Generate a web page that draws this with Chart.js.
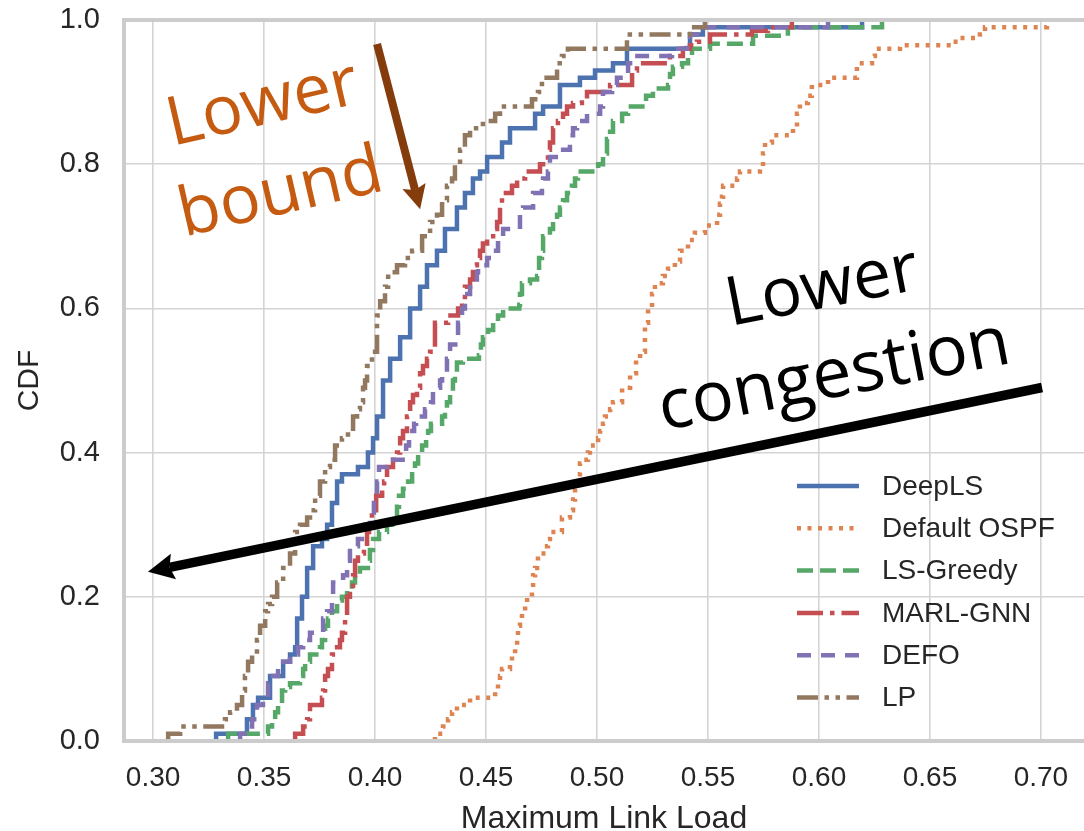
<!DOCTYPE html>
<html>
<head>
<meta charset="utf-8">
<title>Maximum link load CDF</title>
<script src="https://cdn.jsdelivr.net/npm/chart.js@4.4.1/dist/chart.umd.min.js"></script>
<style>
  html, body { margin: 0; padding: 0; background: #ffffff; }
  canvas { display: block; }
</style>
</head>
<body>
<canvas id="cdfChart" width="1084" height="831"></canvas>
<script>
// Axis ticks
const xTicks = [0.30, 0.35, 0.40, 0.45, 0.50, 0.55, 0.60, 0.65, 0.70]
const yTicks = [0.0, 0.2, 0.4, 0.6, 0.8, 1.0]

const seriesNames = ["DeepLS", "Default OSPF", "LS-Greedy", "MARL-GNN", "DEFO", "LP"]

const deepLsLoad = [0.3284, 0.3284, 0.3423, 0.3450, 0.3473, 0.3527, 0.3586, 0.3617, 0.3640, 0.3649, 0.3671, 0.3694, 0.3721, 0.3761, 0.3784, 0.3806, 0.3829, 0.3851, 0.3923, 0.3968, 0.3991, 0.4009, 0.4036, 0.4068, 0.4113, 0.4158, 0.4203, 0.4234, 0.4279, 0.4315, 0.4369, 0.4405, 0.4441, 0.4473, 0.4505, 0.4572, 0.4608, 0.4721, 0.4757, 0.4833, 0.4923, 0.4991, 0.5072, 0.5135, 0.5419, 0.5477, 0.6194]
const deepLsCdf = [0, 0.01, 0.03, 0.05, 0.06, 0.09, 0.11, 0.12, 0.13, 0.17, 0.20, 0.24, 0.27, 0.28, 0.30, 0.33, 0.36, 0.37, 0.38, 0.40, 0.42, 0.45, 0.50, 0.53, 0.56, 0.60, 0.63, 0.66, 0.68, 0.71, 0.74, 0.76, 0.78, 0.79, 0.81, 0.83, 0.85, 0.87, 0.88, 0.91, 0.92, 0.93, 0.94, 0.96, 0.98, 0.99, 1.0]

const ospfLoad = [0.4270, 0.4270, 0.4306, 0.4329, 0.4347, 0.4369, 0.4428, 0.4541, 0.4554, 0.4563, 0.4572, 0.4608, 0.4617, 0.4631, 0.4640, 0.4644, 0.4653, 0.4662, 0.4676, 0.4685, 0.4707, 0.4712, 0.4721, 0.4730, 0.4734, 0.4775, 0.4779, 0.4788, 0.4842, 0.4878, 0.4892, 0.4901, 0.4910, 0.4923, 0.4937, 0.4959, 0.4968, 0.5005, 0.5014, 0.5027, 0.5036, 0.5059, 0.5072, 0.5113, 0.5149, 0.5176, 0.5194, 0.5216, 0.5230, 0.5248, 0.5261, 0.5297, 0.5320, 0.5351, 0.5374, 0.5410, 0.5441, 0.5486, 0.5541, 0.5554, 0.5563, 0.5568, 0.5631, 0.5644, 0.5734, 0.5748, 0.5757, 0.5788, 0.5883, 0.5901, 0.5914, 0.5950, 0.5968, 0.6041, 0.6171, 0.6239, 0.6252, 0.6365, 0.6599, 0.6626, 0.6725, 0.6748, 0.7027]
const ospfCdf = [0, 0.01, 0.02, 0.03, 0.04, 0.05, 0.06, 0.07, 0.08, 0.09, 0.10, 0.11, 0.12, 0.13, 0.14, 0.16, 0.17, 0.18, 0.19, 0.20, 0.21, 0.23, 0.24, 0.25, 0.26, 0.27, 0.28, 0.29, 0.31, 0.32, 0.335, 0.35, 0.37, 0.385, 0.39, 0.40, 0.41, 0.42, 0.43, 0.44, 0.45, 0.46, 0.47, 0.49, 0.51, 0.53, 0.54, 0.58, 0.60, 0.62, 0.635, 0.645, 0.655, 0.665, 0.68, 0.695, 0.705, 0.715, 0.73, 0.745, 0.755, 0.77, 0.78, 0.79, 0.795, 0.815, 0.83, 0.84, 0.85, 0.87, 0.885, 0.895, 0.91, 0.92, 0.94, 0.95, 0.96, 0.965, 0.97, 0.975, 0.98, 0.99, 1.0]

const greedyLoad = [0.3338, 0.3338, 0.3518, 0.3536, 0.3550, 0.3563, 0.3581, 0.3595, 0.3617, 0.3662, 0.3676, 0.3685, 0.3707, 0.3752, 0.3761, 0.3775, 0.3788, 0.3806, 0.3829, 0.3851, 0.3874, 0.3896, 0.3910, 0.3932, 0.3968, 0.3977, 0.3991, 0.4018, 0.4054, 0.4077, 0.4099, 0.4108, 0.4126, 0.4149, 0.4167, 0.4180, 0.4194, 0.4212, 0.4230, 0.4239, 0.4252, 0.4302, 0.4315, 0.4324, 0.4338, 0.4351, 0.4360, 0.4369, 0.4396, 0.4468, 0.4477, 0.4486, 0.4509, 0.4532, 0.4554, 0.4577, 0.4650, 0.4653, 0.4662, 0.4698, 0.4730, 0.4739, 0.4752, 0.4757, 0.4788, 0.4802, 0.4820, 0.4833, 0.4847, 0.4865, 0.4887, 0.4901, 0.4914, 0.5005, 0.5027, 0.5045, 0.5059, 0.5072, 0.5113, 0.5140, 0.5221, 0.5252, 0.5320, 0.5329, 0.5342, 0.5383, 0.5410, 0.5428, 0.5509, 0.5703, 0.5860, 0.6284]
const greedyCdf = [0, 0.01, 0.02, 0.03, 0.04, 0.05, 0.07, 0.075, 0.08, 0.09, 0.10, 0.11, 0.12, 0.13, 0.14, 0.16, 0.17, 0.18, 0.195, 0.20, 0.21, 0.22, 0.23, 0.24, 0.25, 0.265, 0.28, 0.29, 0.30, 0.31, 0.325, 0.34, 0.35, 0.36, 0.37, 0.385, 0.40, 0.41, 0.42, 0.43, 0.44, 0.45, 0.46, 0.47, 0.48, 0.50, 0.51, 0.525, 0.53, 0.535, 0.55, 0.56, 0.57, 0.58, 0.59, 0.60, 0.605, 0.62, 0.635, 0.64, 0.645, 0.67, 0.68, 0.70, 0.71, 0.72, 0.73, 0.74, 0.75, 0.76, 0.77, 0.78, 0.79, 0.80, 0.815, 0.835, 0.845, 0.86, 0.87, 0.88, 0.895, 0.905, 0.91, 0.925, 0.935, 0.94, 0.95, 0.96, 0.967, 0.978, 0.99, 1.0]

const marlLoad = [0.3640, 0.3640, 0.3676, 0.3694, 0.3707, 0.3761, 0.3766, 0.3775, 0.3788, 0.3806, 0.3829, 0.3842, 0.3851, 0.3865, 0.3874, 0.3887, 0.3901, 0.3910, 0.3923, 0.3950, 0.3964, 0.3973, 0.3986, 0.4005, 0.4032, 0.4041, 0.4054, 0.4081, 0.4099, 0.4113, 0.4126, 0.4144, 0.4158, 0.4171, 0.4189, 0.4203, 0.4216, 0.4234, 0.4248, 0.4270, 0.4329, 0.4374, 0.4392, 0.4405, 0.4428, 0.4441, 0.4459, 0.4473, 0.4486, 0.4505, 0.4532, 0.4550, 0.4563, 0.4572, 0.4617, 0.4640, 0.4676, 0.4743, 0.4779, 0.4788, 0.4802, 0.4824, 0.4847, 0.4865, 0.4892, 0.4932, 0.4955, 0.5059, 0.5158, 0.5180, 0.5329, 0.5387, 0.5419, 0.5450, 0.5509, 0.5698, 0.5770, 0.5878]
const marlCdf = [0, 0.01, 0.02, 0.03, 0.05, 0.06, 0.07, 0.09, 0.10, 0.12, 0.13, 0.14, 0.15, 0.17, 0.20, 0.21, 0.23, 0.25, 0.26, 0.27, 0.29, 0.30, 0.32, 0.34, 0.35, 0.36, 0.38, 0.39, 0.40, 0.42, 0.43, 0.45, 0.47, 0.48, 0.49, 0.51, 0.52, 0.53, 0.54, 0.58, 0.59, 0.60, 0.61, 0.63, 0.64, 0.66, 0.67, 0.68, 0.69, 0.70, 0.71, 0.72, 0.74, 0.76, 0.77, 0.78, 0.79, 0.80, 0.82, 0.83, 0.85, 0.86, 0.87, 0.88, 0.885, 0.89, 0.90, 0.91, 0.93, 0.94, 0.95, 0.96, 0.965, 0.97, 0.98, 0.985, 0.99, 1.0]

const defoLoad = [0.3392, 0.3392, 0.3423, 0.3446, 0.3468, 0.3495, 0.3518, 0.3541, 0.3563, 0.3586, 0.3617, 0.3653, 0.3676, 0.3707, 0.3766, 0.3784, 0.3806, 0.3811, 0.3856, 0.3874, 0.3887, 0.3923, 0.3955, 0.3977, 0.3995, 0.4009, 0.4018, 0.4054, 0.4140, 0.4153, 0.4176, 0.4185, 0.4225, 0.4252, 0.4261, 0.4293, 0.4302, 0.4324, 0.4333, 0.4338, 0.4374, 0.4392, 0.4405, 0.4428, 0.4459, 0.4464, 0.4505, 0.4532, 0.4554, 0.4577, 0.4653, 0.4667, 0.4712, 0.4752, 0.4757, 0.4779, 0.4788, 0.4833, 0.4878, 0.4892, 0.4910, 0.4955, 0.5014, 0.5027, 0.5068, 0.5090, 0.5140, 0.5162, 0.5338, 0.5405, 0.5419, 0.5477, 0.6041]
const defoCdf = [0, 0.01, 0.02, 0.03, 0.05, 0.06, 0.08, 0.09, 0.10, 0.11, 0.12, 0.13, 0.14, 0.15, 0.17, 0.18, 0.20, 0.22, 0.23, 0.25, 0.27, 0.28, 0.30, 0.31, 0.33, 0.36, 0.38, 0.39, 0.41, 0.43, 0.44, 0.45, 0.46, 0.47, 0.49, 0.50, 0.51, 0.53, 0.54, 0.55, 0.58, 0.60, 0.62, 0.64, 0.65, 0.66, 0.67, 0.68, 0.70, 0.71, 0.73, 0.74, 0.76, 0.77, 0.78, 0.79, 0.81, 0.82, 0.84, 0.85, 0.86, 0.87, 0.88, 0.90, 0.91, 0.92, 0.94, 0.95, 0.96, 0.97, 0.98, 0.99, 1.0]

const lpLoad = [0.3068, 0.3068, 0.3122, 0.3324, 0.3347, 0.3378, 0.3401, 0.3414, 0.3428, 0.3446, 0.3468, 0.3482, 0.3505, 0.3518, 0.3536, 0.3559, 0.3586, 0.3617, 0.3640, 0.3662, 0.3694, 0.3707, 0.3730, 0.3752, 0.3775, 0.3797, 0.3820, 0.3851, 0.3878, 0.3901, 0.3919, 0.3932, 0.3946, 0.3955, 0.3964, 0.3986, 0.4009, 0.4023, 0.4045, 0.4059, 0.4099, 0.4135, 0.4167, 0.4212, 0.4248, 0.4279, 0.4302, 0.4324, 0.4347, 0.4360, 0.4383, 0.4405, 0.4428, 0.4486, 0.4541, 0.4563, 0.4707, 0.4734, 0.4752, 0.4820, 0.4842, 0.4869, 0.5135, 0.5419, 0.5486]
const lpCdf = [0, 0.01, 0.02, 0.03, 0.04, 0.05, 0.07, 0.09, 0.11, 0.12, 0.14, 0.16, 0.18, 0.19, 0.20, 0.22, 0.24, 0.26, 0.29, 0.30, 0.31, 0.32, 0.34, 0.36, 0.38, 0.39, 0.41, 0.42, 0.43, 0.45, 0.46, 0.47, 0.49, 0.50, 0.52, 0.54, 0.59, 0.61, 0.63, 0.65, 0.66, 0.67, 0.68, 0.70, 0.72, 0.73, 0.75, 0.77, 0.78, 0.80, 0.82, 0.84, 0.85, 0.86, 0.87, 0.88, 0.89, 0.90, 0.92, 0.94, 0.95, 0.96, 0.98, 0.99, 1.0]

const seriesLoads = [deepLsLoad, ospfLoad, greedyLoad, marlLoad, defoLoad, lpLoad]
const seriesCdfs = [deepLsCdf, ospfCdf, greedyCdf, marlCdf, defoCdf, lpCdf]

// Annotation texts
const boundText = ["Lower", "bound"]
const congestionText = ["Lower", "congestion"]

// ---- styling (seaborn "deep" palette, matplotlib-like dashes) ----
const seriesStyles = [
  { color: "#4c72b0", dash: [] },
  { color: "#dd8452", dash: [4, 6.5] },
  { color: "#55a868", dash: [16, 7] },
  { color: "#c44e52", dash: [26, 7, 4.5, 7] },
  { color: "#8172b3", dash: [14, 10] },
  { color: "#937860", dash: [21, 6.5, 4.5, 6.5, 4.5, 6.5] }
]

const AXIS_FONT = "Liberation Sans, Arial, sans-serif"
const TEXT_COLOR = "#262626"
const GRID_COLOR = "#d4d4d4"
const SPINE_COLOR = "#cccccc"

const datasets = seriesNames.map((name, i) => ({
  label: name,
  data: seriesLoads[i].map((v, k) => ({ x: v, y: seriesCdfs[i][k] })),
  borderColor: seriesStyles[i].color,
  backgroundColor: seriesStyles[i].color,
  borderDash: seriesStyles[i].dash,
  borderWidth: 4.5,
  borderCapStyle: "butt",
  stepped: "before",
  pointRadius: 0,
  fill: false,
  order: seriesNames.length - i
}))

function drawArrow(ctx, x1, y1, x2, y2, width, headLen, headHalf, color) {
  const a = Math.atan2(y2 - y1, x2 - x1)
  const bx = x2 - Math.cos(a) * headLen
  const by = y2 - Math.sin(a) * headLen
  ctx.save()
  ctx.strokeStyle = color
  ctx.fillStyle = color
  ctx.lineWidth = width
  ctx.lineCap = "butt"
  ctx.setLineDash([])
  ctx.beginPath()
  ctx.moveTo(x1, y1)
  ctx.lineTo(bx + Math.cos(a) * 4, by + Math.sin(a) * 4)
  ctx.stroke()
  const nx = -Math.sin(a), ny = Math.cos(a)
  ctx.beginPath()
  ctx.moveTo(x2, y2)
  ctx.lineTo(bx + nx * headHalf, by + ny * headHalf)
  ctx.lineTo(bx + Math.cos(a) * 4, by + Math.sin(a) * 4)
  ctx.lineTo(bx - nx * headHalf, by - ny * headHalf)
  ctx.closePath()
  ctx.fill()
  ctx.restore()
}

function drawRotatedText(ctx, text, x, y, angleDeg, font, color) {
  ctx.save()
  ctx.translate(x, y)
  ctx.rotate(angleDeg * Math.PI / 180)
  ctx.font = font
  ctx.fillStyle = color
  ctx.textAlign = "center"
  ctx.textBaseline = "alphabetic"
  ctx.fillText(text, 0, 0)
  ctx.restore()
}

const decorPlugin = {
  id: "decor",
  afterDatasetsDraw(chart) {
    const { ctx, chartArea, scales } = chart
    const px = v => scales.x.getPixelForValue(v)
    const py = v => scales.y.getPixelForValue(v)

    // spines (left, top, bottom)
    ctx.save()
    ctx.strokeStyle = SPINE_COLOR
    ctx.lineWidth = 4
    ctx.setLineDash([])
    ctx.beginPath()
    ctx.moveTo(chartArea.right + 2, chartArea.top)
    ctx.lineTo(chartArea.left, chartArea.top)
    ctx.lineTo(chartArea.left, chartArea.bottom)
    ctx.lineTo(chartArea.right + 2, chartArea.bottom)
    ctx.stroke()
    ctx.restore()

    // annotations
    const bigFont = "68px 'Open Sans', 'Noto Sans', sans-serif"
    const congFont = "70px 'Open Sans', 'Noto Sans', sans-serif"
    drawRotatedText(ctx, boundText[0], px(0.3514), py(0.8556), -13, bigFont, "#c55a11")
    drawRotatedText(ctx, boundText[1], px(0.3595), py(0.7319), -13, bigFont, "#c55a11")
    drawRotatedText(ctx, congestionText[0], px(0.6032), py(0.6014), -11, bigFont, "#000000")
    drawRotatedText(ctx, congestionText[1], px(0.6086), py(0.4778), -11, congFont, "#000000")
    drawArrow(ctx, px(0.4009), py(0.9667), px(0.4203), py(0.7375), 8, 24, 12, "#843c0c")
    drawArrow(ctx, px(0.7005), py(0.4903), px(0.2977), py(0.2347), 9.5, 26, 13, "#000000")

    // legend (lower right)
    const lineX0 = chartArea.right - 287
    const lineX1 = chartArea.right - 225
    const textX = chartArea.right - 202
    const rowY0 = chartArea.bottom - 255
    const rowGap = 42.3
    chart.data.datasets.forEach((ds, i) => {
      const y = rowY0 + i * rowGap
      ctx.save()
      ctx.strokeStyle = ds.borderColor
      ctx.lineWidth = 4.5
      ctx.lineCap = "butt"
      ctx.setLineDash(ds.borderDash)
      ctx.beginPath()
      ctx.moveTo(lineX0, y)
      ctx.lineTo(lineX1, y)
      ctx.stroke()
      ctx.setLineDash([])
      ctx.fillStyle = TEXT_COLOR
      ctx.font = "28px " + AXIS_FONT
      ctx.textAlign = "left"
      ctx.textBaseline = "middle"
      ctx.fillText(ds.label, textX, y + 1)
      ctx.restore()
    })

    // axis titles
    ctx.save()
    ctx.fillStyle = TEXT_COLOR
    ctx.textAlign = "center"
    ctx.textBaseline = "alphabetic"
    ctx.font = "32px " + AXIS_FONT
    ctx.fillText("Maximum Link Load", (chartArea.left + chartArea.right) / 2, 828)
    ctx.font = "30px " + AXIS_FONT
    ctx.translate(38, (chartArea.top + chartArea.bottom) / 2)
    ctx.rotate(-Math.PI / 2)
    ctx.fillText("CDF", 0, 0)
    ctx.restore()
  }
}

new Chart(document.getElementById("cdfChart"), {
  type: "line",
  data: { datasets },
  options: {
    responsive: false,
    devicePixelRatio: 1,
    animation: false,
    layout: { padding: { top: 20, right: 0, left: 0, bottom: 0 } },
    plugins: { legend: { display: false }, tooltip: { enabled: false } },
    scales: {
      x: {
        type: "linear",
        min: 0.2869,
        max: 0.7194,
        afterBuildTicks: s => { s.ticks = xTicks.map(v => ({ value: v })) },
        afterFit: s => {
          s.height = 90
          s.paddingLeft = 0
          s.paddingRight = 0
        },
        grid: { color: GRID_COLOR, lineWidth: 1.6, drawTicks: false },
        border: { display: false },
        ticks: {
          padding: 20,
          color: TEXT_COLOR,
          font: { family: AXIS_FONT, size: 28 },
          callback: v => v.toFixed(2)
        }
      },
      y: {
        type: "linear",
        min: 0,
        max: 1,
        afterBuildTicks: s => { s.ticks = yTicks.map(v => ({ value: v })) },
        afterFit: s => {
          s.width = 124
          s.paddingTop = 0
          s.paddingBottom = 0
        },
        grid: { color: GRID_COLOR, lineWidth: 1.6, drawTicks: false },
        border: { display: false },
        ticks: {
          padding: 24,
          color: TEXT_COLOR,
          font: { family: AXIS_FONT, size: 29 },
          callback: v => v.toFixed(1)
        }
      }
    }
  },
  plugins: [decorPlugin]
})
</script>
</body>
</html>
